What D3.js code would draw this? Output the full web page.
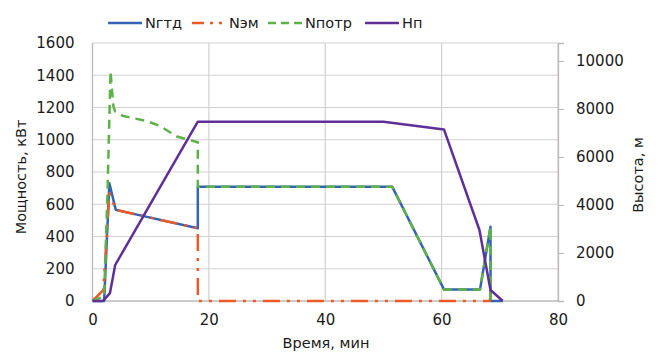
<!DOCTYPE html>
<html>
<head>
  <meta charset="utf-8">
  <script src="https://d3js.org/d3.v7.min.js"></script>
  <style>
    html, body { margin: 0; padding: 0; background: #fff; }
    svg { display: block; }
    text { font-family: "DejaVu Sans", Verdana, sans-serif; fill: #1a1a1a; }
    .grid line { stroke: #d4d0d0; stroke-width: 1.2px; }
  </style>
</head>
<body>
  <svg width="659" height="352"></svg>
  <script>
    // time, minutes
    const ngtdT = [0, 2.0, 2.9, 4.0, 18.1, 18.1, 51.5, 60.4, 66.6, 68.4, 68.4, 70.5];
    const ngtdV = [0, 0, 730, 565, 451, 709, 709, 72, 72, 460, 0, 0];

    const nemT = [0, 1.85, 2.9, 4.0, 18.1, 18.1, 68.3, 68.4, 68.5];
    const nemV = [0, 68, 668, 565, 451, 0, 0, 45, 0];

    const npotrT = [0, 2.0, 2.6, 3.1, 3.3, 3.6, 3.9, 5.3, 9.3, 11.6, 14.5, 16.7, 18.1, 18.1, 51.5, 60.4, 66.6, 68.4, 68.4];
    const npotrV = [0, 30, 700, 1425, 1330, 1205, 1175, 1147, 1116, 1085, 1020, 998, 985, 709, 709, 72, 72, 460, 0];

    const hT = [0, 1.8, 3.0, 3.9, 18.1, 50, 60.4, 66.5, 68.4, 70.5];
    const hV = [0, 0, 330, 1500, 7470, 7470, 7150, 2960, 460, 0];

    const xTicks = [0, 20, 40, 60, 80];
    const yTicks = [0, 200, 400, 600, 800, 1000, 1200, 1400, 1600];
    const y2Ticks = [0, 2000, 4000, 6000, 8000, 10000];

    const legendNames = ["Nгтд", "Nэм", "Nпотр", "Нп"];

    const svg = d3.select("svg");
    const x = d3.scaleLinear().domain([0, 80]).range([92.5, 558]);
    const y = d3.scaleLinear().domain([0, 1600]).range([301, 43]);
    const y2 = d3.scaleLinear().domain([0, 10750]).range([301, 43]);
    const fmt = d3.format("d");

    // grid
    const grid = svg.append("g").attr("class", "grid");
    grid.selectAll(".h").data(yTicks.slice(1)).enter().append("line")
      .attr("x1", x(0)).attr("x2", x(80))
      .attr("y1", d => y(d)).attr("y2", d => y(d));
    grid.selectAll(".v").data(xTicks.slice(1)).enter().append("line")
      .attr("x1", d => x(d)).attr("x2", d => x(d))
      .attr("y1", y(0)).attr("y2", y(1600));

    // axis lines
    svg.append("line").attr("x1", x(0)).attr("x2", x(0)).attr("y1", y(0)).attr("y2", y(1600))
      .attr("stroke", "#bdb8b8").attr("stroke-width", 1.3);
    svg.append("line").attr("x1", x(0)).attr("x2", x(80)).attr("y1", y(0)).attr("y2", y(0))
      .attr("stroke", "#bdb8b8").attr("stroke-width", 1.3);

    // left axis
    const yAxis = svg.append("g").attr("transform", `translate(${x(0)},0)`)
      .call(d3.axisLeft(y).tickValues(yTicks).tickFormat(fmt).tickSize(0).tickPadding(18));
    yAxis.select(".domain").remove();
    yAxis.selectAll("text").style("font-size", "15px").attr("fill", "#1a1a1a");

    // right axis
    const y2Axis = svg.append("g").attr("transform", `translate(${x(80)},0)`)
      .call(d3.axisRight(y2).tickValues(y2Ticks).tickFormat(fmt).tickSize(6).tickPadding(12));
    y2Axis.select(".domain").attr("stroke", "#bdb8b8").attr("stroke-width", 1.3);
    y2Axis.selectAll(".tick line").attr("stroke", "#bdb8b8");
    y2Axis.selectAll("text").style("font-size", "15px").attr("fill", "#1a1a1a");

    // bottom axis
    const xAxis = svg.append("g").attr("transform", `translate(0,${y(0)})`)
      .call(d3.axisBottom(x).tickValues(xTicks).tickFormat(fmt).tickSize(0).tickPadding(13));
    xAxis.select(".domain").remove();
    xAxis.selectAll("text").style("font-size", "15px").attr("fill", "#1a1a1a");

    // axis titles
    svg.append("text").attr("transform", "translate(26,177) rotate(-90)")
      .attr("text-anchor", "middle").style("font-size", "14.5px").text("Мощность, кВт");
    svg.append("text").attr("transform", "translate(643,175) rotate(-90)")
      .attr("text-anchor", "middle").style("font-size", "14.5px").text("Высота, м");
    svg.append("text").attr("x", 326).attr("y", 348)
      .attr("text-anchor", "middle").style("font-size", "14.5px").text("Время, мин");

    // series
    const series = [
      { name: legendNames[0], t: ngtdT, v: ngtdV, sc: y, color: "#3563b4", dash: null },
      { name: legendNames[1], t: nemT, v: nemV, sc: y, color: "#ec5a27", dash: "17,7,3,7,3,7" },
      { name: legendNames[2], t: npotrT, v: npotrV, sc: y, color: "#5cb248", dash: "9,6" },
      { name: legendNames[3], t: hT, v: hV, sc: y2, color: "#5f2f98", dash: null }
    ];

    series.forEach(s => {
      const pts = s.t.map((t, i) => [t, s.v[i]]);
      const line = d3.line().x(d => x(d[0])).y(d => s.sc(d[1]));
      svg.append("path").datum(pts)
        .attr("d", line)
        .attr("fill", "none")
        .attr("stroke", s.color)
        .attr("stroke-width", 2.5)
        .attr("stroke-linejoin", "round")
        .attr("stroke-dasharray", s.dash);
    });

    // legend
    const legX = [108, 192, 268, 365];
    const lg = svg.append("g");
    series.forEach((s, i) => {
      const g = lg.append("g").attr("transform", `translate(${legX[i]},23)`);
      g.append("line").attr("x1", 0).attr("x2", 34).attr("y1", 0).attr("y2", 0)
        .attr("stroke", s.color).attr("stroke-width", 2.5)
        .attr("stroke-dasharray", s.dash ? (i === 1 ? "12,6,3,6,3,6" : "8,5") : null);
      g.append("text").attr("x", 37).attr("y", 5).style("font-size", "14.5px").text(s.name);
    });
  </script>
</body>
</html>
